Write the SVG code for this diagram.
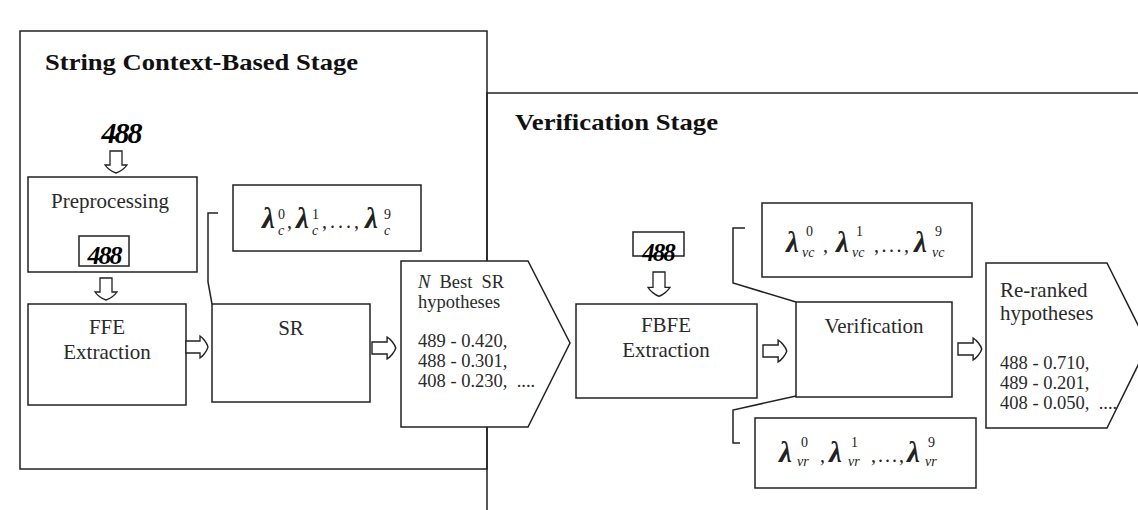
<svg xmlns="http://www.w3.org/2000/svg" width="1138" height="510" viewBox="0 0 1138 510">
<style>
  .ln{fill:none;stroke:#222;stroke-width:1.5}
  .bx{fill:#fff;stroke:#222;stroke-width:1.5}
  .t{font-family:"Liberation Serif","Times New Roman",serif;fill:#2a2a2a}
  .lbl{font-size:21px;text-anchor:middle}
  .num{font-size:18.5px}
  .ttl{font-size:24px;font-weight:bold;fill:#111}
  .hw{font-family:"Liberation Serif",serif;font-weight:bold;font-style:italic;fill:#000;text-anchor:middle}
  .lam{font-family:"Liberation Serif",serif;font-size:29px;font-style:italic;font-weight:bold;fill:#222}
  .sup{font-size:14px;font-style:normal;font-weight:normal}
  .sub{font-size:14px;font-style:italic;font-weight:normal}
  .sep{font-size:20px;font-style:normal;font-weight:normal}
  .arr{fill:#fff;stroke:#222;stroke-width:1.3}
</style>
<defs>
  <path id="rarr" d="M0,-6 H14 V-11 C17,-9 21,-4 22,0 C21,4 17,9 14,11 V6 H0 Z"/>
</defs>
<rect width="1138" height="510" fill="#fff"/>

<g id="stage-string">
  <rect class="ln" x="20" y="31" width="467" height="438"/>
  <text class="t ttl" x="45" y="70" textLength="313" lengthAdjust="spacingAndGlyphs">String Context-Based Stage</text>
</g>
<g id="stage-verification">
  <path class="ln" d="M487,510 V93 H1138"/>
  <text class="t ttl" x="515" y="130" textLength="203" lengthAdjust="spacingAndGlyphs">Verification Stage</text>
</g>

<g id="input-image">
  <text class="hw" x="121" y="143" font-size="30" letter-spacing="-2">488</text>
</g>

<g id="preprocessing">
  <rect class="bx" x="28" y="177" width="169" height="95"/>
  <text class="t lbl" x="110" y="208">Preprocessing</text>
  <rect class="ln" x="79" y="236" width="50" height="30"/>
  <text class="hw" x="104" y="264" font-size="26" letter-spacing="-2">488</text>
</g>

<g id="ffe">
  <rect class="bx" x="28" y="304" width="158" height="101"/>
  <text class="t lbl" x="107" y="334">FFE</text>
  <text class="t lbl" x="107" y="359">Extraction</text>
</g>

<g id="sr">
  <rect class="bx" x="212" y="304" width="158" height="98"/>
  <text class="t lbl" x="291" y="335">SR</text>
</g>

<g id="lambda-c">
  <rect class="bx" x="233" y="185" width="188" height="66"/>
  <text class="lam"><tspan x="262" y="228">λ</tspan><tspan class="sup" x="278" y="219">0</tspan><tspan class="sub" x="278" y="235">c</tspan><tspan class="sep" x="287" y="228">,</tspan><tspan x="296" y="228">λ</tspan><tspan class="sup" x="312" y="219">1</tspan><tspan class="sub" x="312" y="235">c</tspan><tspan class="sep" x="322" y="228" letter-spacing="3">,...,</tspan><tspan x="365" y="228">λ</tspan><tspan class="sup" x="384" y="219">9</tspan><tspan class="sub" x="384" y="235">c</tspan></text>
</g>

<g id="nbest">
  <polygon class="bx" points="401,261 528,261 570,343 528,427 401,427"/>
  <text class="t num" x="418" y="288" word-spacing="4.5"><tspan font-style="italic">N</tspan> Best SR</text>
  <text class="t num" x="418" y="308">hypotheses</text>
  <text class="t num" x="418" y="347">489 - 0.420,</text>
  <text class="t num" x="418" y="367">488 - 0.301,</text>
  <text class="t num" x="418" y="387" xml:space="preserve">408 - 0.230,  ....</text>
</g>

<g id="verif-image">
  <rect class="ln" x="633" y="232" width="51" height="24"/>
  <text class="hw" x="658" y="261" font-size="25" letter-spacing="-2">488</text>
</g>

<g id="fbfe">
  <rect class="bx" x="576" y="304" width="181" height="94"/>
  <text class="t lbl" x="666" y="332">FBFE</text>
  <text class="t lbl" x="666" y="357">Extraction</text>
</g>

<g id="verification">
  <rect class="bx" x="796" y="302" width="156" height="95"/>
  <text class="t lbl" x="874" y="333">Verification</text>
</g>

<g id="lambda-vc">
  <rect class="bx" x="762" y="203" width="210" height="74"/>
  <text class="lam"><tspan x="786" y="252">λ</tspan><tspan class="sup" x="806" y="236">0</tspan><tspan class="sub" x="802" y="257">vc</tspan><tspan class="sep" x="823" y="252">,</tspan><tspan x="836" y="252">λ</tspan><tspan class="sup" x="856" y="236">1</tspan><tspan class="sub" x="852" y="257">vc</tspan><tspan class="sep" x="874" y="252" letter-spacing="2.5">,...,</tspan><tspan x="914" y="252">λ</tspan><tspan class="sup" x="935" y="236">9</tspan><tspan class="sub" x="932" y="257">vc</tspan></text>
</g>

<g id="lambda-vr">
  <rect class="bx" x="755" y="418" width="221" height="70"/>
  <text class="lam"><tspan x="779" y="462">λ</tspan><tspan class="sup" x="801" y="447">0</tspan><tspan class="sub" x="797" y="466">vr</tspan><tspan class="sep" x="820" y="462">,</tspan><tspan x="829" y="462">λ</tspan><tspan class="sup" x="851" y="447">1</tspan><tspan class="sub" x="848" y="466">vr</tspan><tspan class="sep" x="871" y="462" letter-spacing="2">,...,</tspan><tspan x="907" y="462">λ</tspan><tspan class="sup" x="928" y="447">9</tspan><tspan class="sub" x="925" y="466">vr</tspan></text>
</g>

<g id="reranked">
  <polygon class="bx" points="986,263 1107,263 1148,345 1107,428 986,428"/>
  <text class="t" font-size="21" x="1000" y="297">Re-ranked</text>
  <text class="t" font-size="21" x="1000" y="320">hypotheses</text>
  <text class="t num" x="1000" y="369">488 - 0.710,</text>
  <text class="t num" x="1000" y="389">489 - 0.201,</text>
  <text class="t num" x="1000" y="409" xml:space="preserve">408 - 0.050,  ....</text>
</g>

<g id="connectors">
  <path class="ln" d="M218,213 H208 V282 L212,304"/>
  <path class="ln" d="M745,228 H733 V283 L796,302"/>
  <path class="ln" d="M796,396 L733,410 V443 H740"/>
  <use href="#rarr" class="arr" transform="translate(116,151) rotate(90)"/>
  <use href="#rarr" class="arr" transform="translate(106,278) rotate(90)"/>
  <use href="#rarr" class="arr" transform="translate(659,272) rotate(90) scale(1.1,1)"/>
  <use href="#rarr" class="arr" transform="translate(186,347)"/>
  <use href="#rarr" class="arr" transform="translate(372,348) scale(1.08,1)"/>
  <use href="#rarr" class="arr" transform="translate(763,351) scale(1.08,1)"/>
  <use href="#rarr" class="arr" transform="translate(958,349) scale(1.08,1)"/>
</g>
</svg>
